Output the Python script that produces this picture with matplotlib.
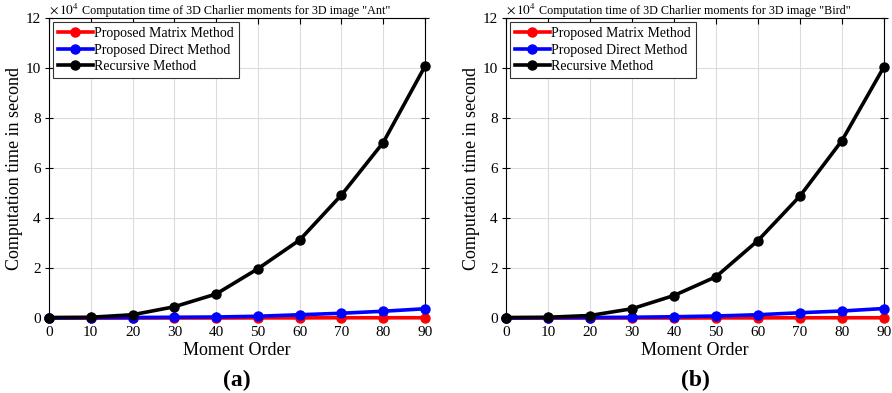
import matplotlib
matplotlib.use("Agg")
import matplotlib.pyplot as plt
import numpy as np

plt.rcParams['font.family'] = ['Liberation Serif', 'DejaVu Serif']
plt.rcParams['mathtext.fontset'] = 'stix'

orders = [0, 10, 20, 30, 40, 50, 60, 70, 80, 90]
series_names = ["Proposed Matrix Method", "Proposed Direct Method", "Recursive Method"]
colors = ["red", "blue", "black"]

ant_matrix = [0.0, 0.0, 0.0, 0.0, 0.0, 0.005, 0.005, 0.01, 0.01, 0.01]
ant_direct = [0.0, 0.01, 0.02, 0.03, 0.04, 0.07, 0.13, 0.19, 0.27, 0.37]
ant_recursive = [0.02, 0.03, 0.13, 0.45, 0.96, 1.97, 3.12, 4.92, 7.02, 10.07]

bird_matrix = [0.0, 0.0, 0.0, 0.0, 0.0, 0.005, 0.005, 0.01, 0.01, 0.01]
bird_direct = [0.0, 0.01, 0.02, 0.03, 0.05, 0.08, 0.13, 0.21, 0.28, 0.38]
bird_recursive = [0.02, 0.03, 0.1, 0.37, 0.9, 1.65, 3.1, 4.88, 7.1, 10.05]

titles = ['Computation time of 3D Charlier moments for 3D image "Ant"',
          'Computation time of 3D Charlier moments for 3D image "Bird"']
panel_labels = ["(a)", "(b)"]

fig = plt.figure(figsize=(8.92, 3.93), dpi=100)
W, H = 892, 393
axes_px = [(49, 18, 425, 318), (506, 18, 884, 318)]
datasets = [(ant_matrix, ant_direct, ant_recursive), (bird_matrix, bird_direct, bird_recursive)]

for i, (x0, y0, x1, y1) in enumerate(axes_px):
    ax = fig.add_axes([x0 / W, 1 - y1 / H, (x1 - x0) / W, (y1 - y0) / H])
    for vals, name, c in zip(datasets[i], series_names, colors):
        ax.plot(orders, vals, '-o', color=c, lw=2.6, ms=6.5, label=name, clip_on=False, zorder=3)
    ax.set_xlim(0, 90)
    ax.set_ylim(0, 12)
    ax.set_xticks(orders)
    ax.set_yticks(range(0, 13, 2))
    ax.grid(True, color='#dcdcdc', lw=0.8)
    ax.set_axisbelow(True)
    ax.tick_params(axis='x', direction='in', top=True, labelsize=11, length=4, pad=6)
    ax.tick_params(axis='y', direction='inout', right=True, labelsize=11, length=6, pad=3)
    for s in ax.spines.values():
        s.set_linewidth(0.8)
    ax.set_xlabel("Moment Order", fontsize=13, labelpad=2)
    ax.set_ylabel("Computation time in second", fontsize=13, labelpad=2)
    ax.text(0.0, 1.003, r"$\times\,10^{4}$", transform=ax.transAxes, fontsize=9.5, va='bottom', ha='left')
    ax.text(0.088, 1.003, titles[i], transform=ax.transAxes, fontsize=8.7, va='bottom', ha='left')
    leg = ax.legend(loc='upper left', fontsize=10, handlelength=2.5, borderaxespad=0.3,
                    fancybox=False, edgecolor='#333333', framealpha=1, labelspacing=0.25,
                    handletextpad=0.1, borderpad=0.35)
    leg.get_frame().set_linewidth(0.8)
    fig.text((x0 + x1) / 2 / W, 1 - 380 / H, panel_labels[i], fontsize=17, fontweight='bold',
             ha='center', va='center')

fig.savefig("out.png", dpi=100)
